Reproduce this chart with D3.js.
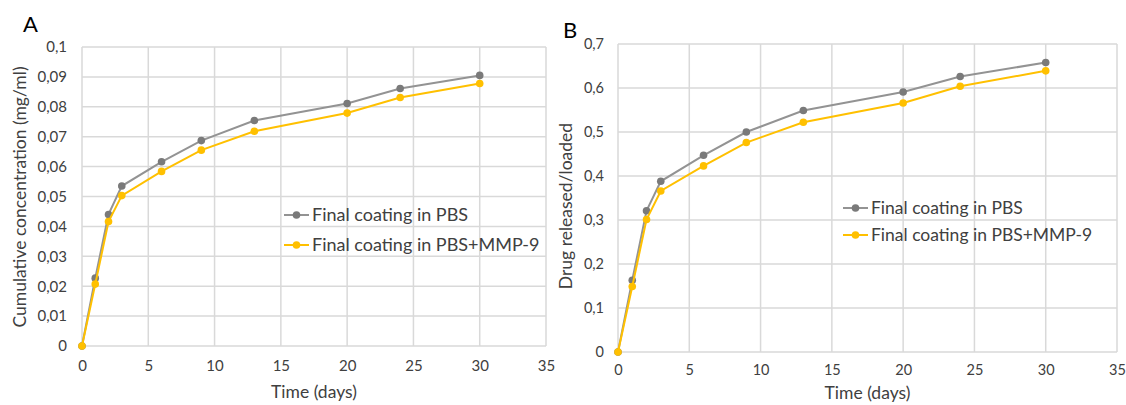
<!DOCTYPE html>
<html>
<head>
<meta charset="utf-8">
<script src="https://cdn.jsdelivr.net/npm/d3@7"></script>
<style>
	body { margin: 0; background: #fff; }
	text { font-family: Lato, "Open Sans", sans-serif; fill: #404040; }
</style>
</head>
<body>
<script>
const w = 1126
const h = 405

// data
const days = [0, 1, 2, 3, 6, 9, 13, 20, 24, 30]
const concPBS = [0, 0.0227, 0.044, 0.0535, 0.0616, 0.0687, 0.0754, 0.0811, 0.0861, 0.0905]
const concMMP = [0, 0.0207, 0.0416, 0.0503, 0.0584, 0.0655, 0.0718, 0.0779, 0.0831, 0.0878]
const ratioPBS = [0, 0.163, 0.321, 0.388, 0.447, 0.500, 0.549, 0.591, 0.626, 0.658]
const ratioMMP = [0, 0.149, 0.301, 0.366, 0.423, 0.476, 0.522, 0.566, 0.604, 0.639]
const seriesNames = ["Final coating in PBS", "Final coating in PBS+MMP-9"]
const xTicks = [0, 5, 10, 15, 20, 25, 30, 35]
const concTicks = [0, 0.01, 0.02, 0.03, 0.04, 0.05, 0.06, 0.07, 0.08, 0.09, 0.1]
const ratioTicks = [0, 0.1, 0.2, 0.3, 0.4, 0.5, 0.6, 0.7]

const colors = ["#939393", "#ffc000"]
const dotColors = ["#7a7a7a", "#ffc000"]
const gridColor = "#d9d9d9"

const fmt = v => String(+v.toFixed(3)).replace(".", ",")

const svg = d3.select("body")
	.append("svg")
	.attr("width", w)
	.attr("height", h)

let drawPanel = function(p) {
	let g = svg.append("g")

	let xScale = d3.scaleLinear()
		.domain([0, 35])
		.range([p.left, p.right])

	let yScale = d3.scaleLinear()
		.domain([0, p.yMax])
		.range([p.bottom, p.top])

	// grid
	g.selectAll(".hg")
		.data(p.yTicks)
		.enter()
		.append("line")
		.attr("x1", p.left)
		.attr("x2", p.right)
		.attr("y1", d => yScale(d))
		.attr("y2", d => yScale(d))
		.attr("stroke", gridColor)
		.attr("stroke-width", 1.5)

	g.selectAll(".vg")
		.data(xTicks)
		.enter()
		.append("line")
		.attr("x1", d => xScale(d))
		.attr("x2", d => xScale(d))
		.attr("y1", p.top)
		.attr("y2", p.bottom)
		.attr("stroke", gridColor)
		.attr("stroke-width", 1.5)

	// axes (labels only, Excel style)
	let xAxis = d3.axisBottom(xScale).tickValues(xTicks).tickSize(0).tickPadding(p.xPad)
	let yAxis = d3.axisLeft(yScale).tickValues(p.yTicks).tickSize(0).tickPadding(p.yPad).tickFormat(fmt)

	g.append("g")
		.attr("transform", "translate(0, " + p.bottom + ")")
		.call(xAxis)
		.call(a => a.select(".domain").remove())
		.selectAll("text")
		.attr("font-size", p.tickSize)
		.attr("fill", "#404040")
		.style("font-family", "Lato, sans-serif")

	g.append("g")
		.attr("transform", "translate(" + p.left + ", 0)")
		.call(yAxis)
		.call(a => a.select(".domain").remove())
		.selectAll("text")
		.attr("font-size", p.tickSize)
		.attr("fill", "#404040")
		.style("font-family", "Lato, sans-serif")

	// lines and dots
	let line = d3.line()
		.x(d => xScale(d.x))
		.y(d => yScale(d.y))

	p.series.forEach((s, i) => {
		let pts = days.map((d, j) => ({ x: d, y: s[j] }))
		g.append("path")
			.datum(pts)
			.attr("d", line)
			.attr("fill", "none")
			.attr("stroke", colors[i])
			.attr("stroke-width", 2)
		g.selectAll(".dot" + i)
			.data(pts)
			.enter()
			.append("circle")
			.attr("cx", d => xScale(d.x))
			.attr("cy", d => yScale(d.y))
			.attr("r", 3.8)
			.attr("fill", dotColors[i])
	})

	// legend
	seriesNames.forEach((n, i) => {
		let ly = p.legY + i * p.legGap
		g.append("line")
			.attr("x1", p.legX)
			.attr("x2", p.legX + 25)
			.attr("y1", ly)
			.attr("y2", ly)
			.attr("stroke", colors[i])
			.attr("stroke-width", 2)
		g.append("circle")
			.attr("cx", p.legX + 12.5)
			.attr("cy", ly)
			.attr("r", 3.8)
			.attr("fill", dotColors[i])
		g.append("text")
			.attr("x", p.legX + 28)
			.attr("y", ly)
			.attr("dy", "0.35em")
			.attr("font-size", p.legSize)
			.text(n)
	})

	// titles
	g.append("text")
		.attr("x", (p.left + p.right) / 2)
		.attr("y", p.xTitleY)
		.attr("text-anchor", "middle")
		.attr("dy", "0.35em")
		.attr("font-size", 17.5)
		.text("Time (days)")

	g.append("text")
		.attr("transform", "translate(" + p.yTitleX + "," + p.yTitleY + ") rotate(-90)")
		.attr("text-anchor", "middle")
		.attr("dy", "0.35em")
		.attr("font-size", 17.5)
		.text(p.yTitle)

	g.append("text")
		.attr("x", p.letterX)
		.attr("y", p.letterY)
		.attr("font-size", 22)
		.style("fill", "#000")
		.text(p.letter)
}

drawPanel({
	letter: "A", letterX: 23, letterY: 32,
	left: 82, right: 546, top: 47, bottom: 346,
	yMax: 0.1, yTicks: concTicks, yPad: 15, xPad: 14, tickSize: 15,
	series: [concPBS, concMMP],
	legX: 284, legY: 215, legGap: 30, legSize: 18,
	xTitleY: 392, yTitleX: 20, yTitleY: 197,
	yTitle: "Cumulative concentration (mg/ml)"
})

drawPanel({
	letter: "B", letterX: 563, letterY: 38,
	left: 618, right: 1117, top: 44, bottom: 352,
	yMax: 0.7, yTicks: ratioTicks, yPad: 14, xPad: 13, tickSize: 14.5,
	series: [ratioPBS, ratioMMP],
	legX: 843, legY: 208, legGap: 27, legSize: 17.5,
	xTitleY: 393, yTitleX: 566, yTitleY: 206,
	yTitle: "Drug released/loaded"
})
</script>
</body>
</html>
